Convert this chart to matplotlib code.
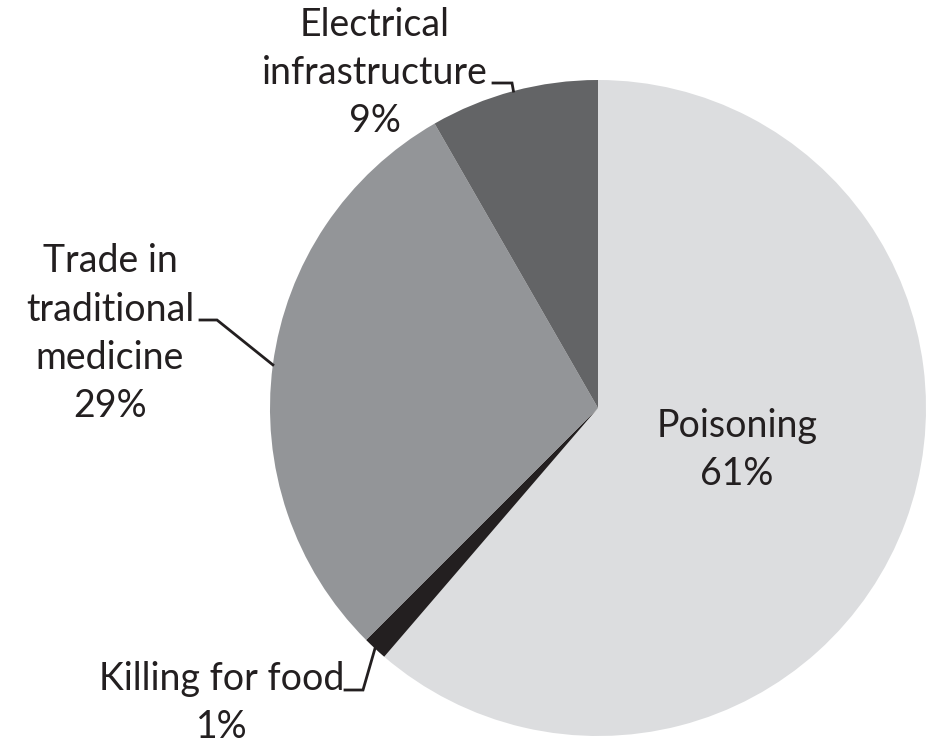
import numpy as np
import matplotlib.pyplot as plt

causes = ["Poisoning", "Killing for food", "Trade in\ntraditional\nmedicine", "Electrical\ninfrastructure"]
shares = [61.3, 1.2, 29.2, 8.3]
pct_text = ["61%", "1%", "29%", "9%"]
colors = ["#dcdddf", "#231f20", "#939598", "#636466"]

W, H = 935, 747
TXT = "#231f20"


def py(y):
    # pixel row (from top) -> data y
    return H - y


fig = plt.figure(figsize=(W / 100, H / 100), dpi=100)
ax = fig.add_axes([0, 0, 1, 1])

cx, cy, r = 598, py(408), 328
wedges, _ = ax.pie(shares, colors=colors, startangle=90, counterclock=False,
                   center=(cx, cy), radius=r, frame=True,
                   wedgeprops=dict(linewidth=0))
ax.set_xlim(0, W)
ax.set_ylim(0, H)
ax.set_aspect("equal")
ax.axis("off")

font = dict(family=["Lato", "DejaVu Sans"], fontsize=27, color=TXT,
            ha="center", linespacing=1.42)

# label text: (x center, baseline of last line)
label_pos = {
    0: (737, 485),
    1: (222, 738),
    2: (110, 417),
    3: (375, 132),
}
for i, (x, yb) in label_pos.items():
    ax.text(x, py(yb), causes[i] + "\n" + pct_text[i], va="baseline", **font)

# leader lines: start of horizontal tick, elbow, then to rim at wedge middle
leaders = {
    1: ((345, 690), (363, 690)),
    2: ((200, 320), (217, 320)),
    3: ((493, 83), (512, 83)),
}
for i, (p0, p1) in leaders.items():
    w = wedges[i]
    mid = np.deg2rad((w.theta1 + w.theta2) / 2)
    rim = (cx + r * np.cos(mid), cy + r * np.sin(mid))
    ax.plot([p0[0], p1[0], rim[0]], [py(p0[1]), py(p1[1]), rim[1]],
            color=TXT, lw=2, solid_joinstyle="miter")

fig.savefig("out.png", dpi=100, facecolor="white")
